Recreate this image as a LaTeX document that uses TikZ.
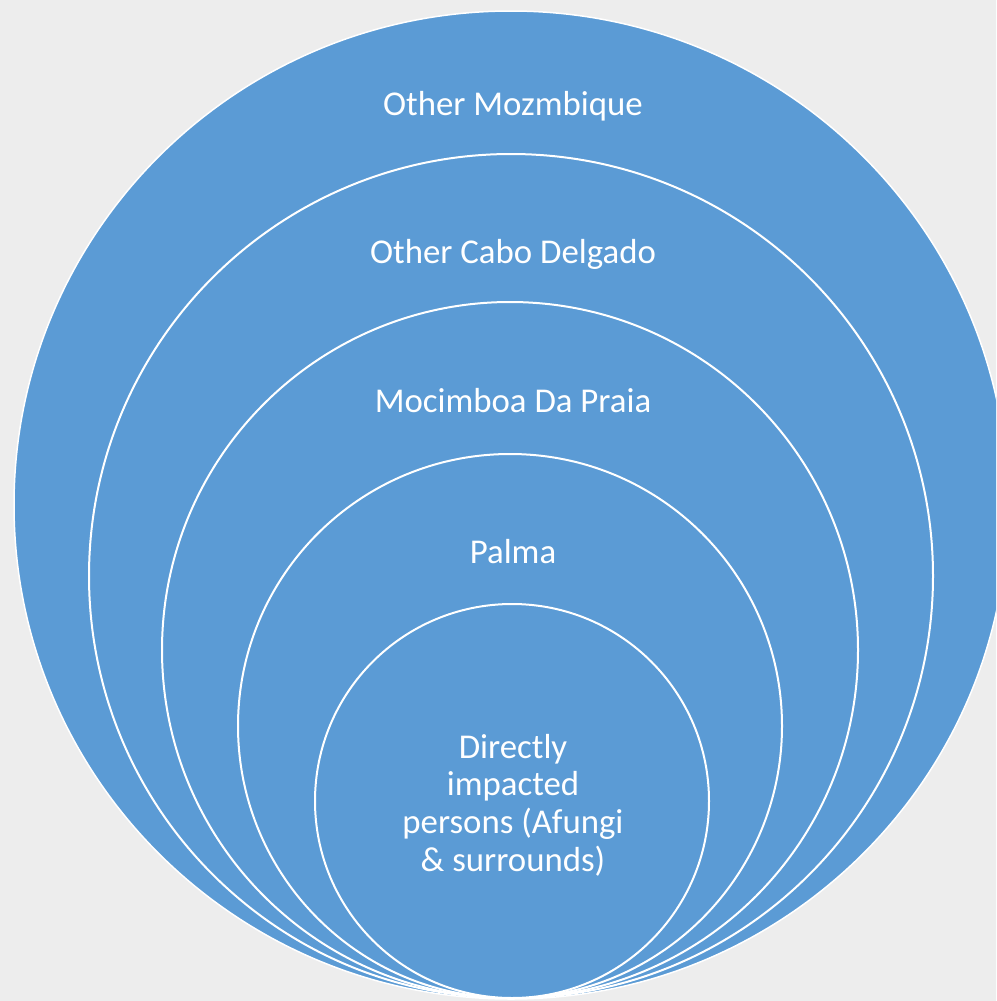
\documentclass[tikz,border=0pt]{standalone}
\usepackage{fontspec}
\setmainfont{Carlito}
\definecolor{ringblue}{HTML}{5B9BD5}
\definecolor{bgin}{HTML}{F7F7F7}
\definecolor{bgout}{HTML}{EDEDED}
\begin{document}
\begin{tikzpicture}[x=1pt,y=-1pt,
  ring/.style={fill=ringblue, draw=white, line width=2pt},
  lbl/.style={text=white, font=\fontsize{34.8}{37.7}\selectfont, inner sep=0pt, align=center}]
\useasboundingbox (0,0) rectangle (996,1001);
\clip (0,0) rectangle (996,1001);
\shade[inner color=bgin, outer color=bgout] (0,0) rectangle (996,1001);
\draw[ring, line width=1.5pt] (511,505) ellipse [x radius=497, y radius=494];
\draw[ring] (511,576) circle [radius=422];
\draw[ring] (510,650) circle [radius=348];
\draw[ring] (510,726) circle [radius=272];
\draw[ring] (512,801) circle [radius=197];
\node[lbl, anchor=base] (t1) at (513,115) {Other Mozmbique};
\node[lbl, anchor=base] (t2) at (513,263) {Other Cabo Delgado};
\node[lbl, anchor=base] (t3) at (513,412) {Mocimboa Da Praia};
\node[lbl, anchor=base] (t4) at (513,563) {Palma};
\node[lbl] (t5) at (513,805) {Directly\\impacted\\persons (Afungi\\\& surrounds)};
\end{tikzpicture}
\end{document}
